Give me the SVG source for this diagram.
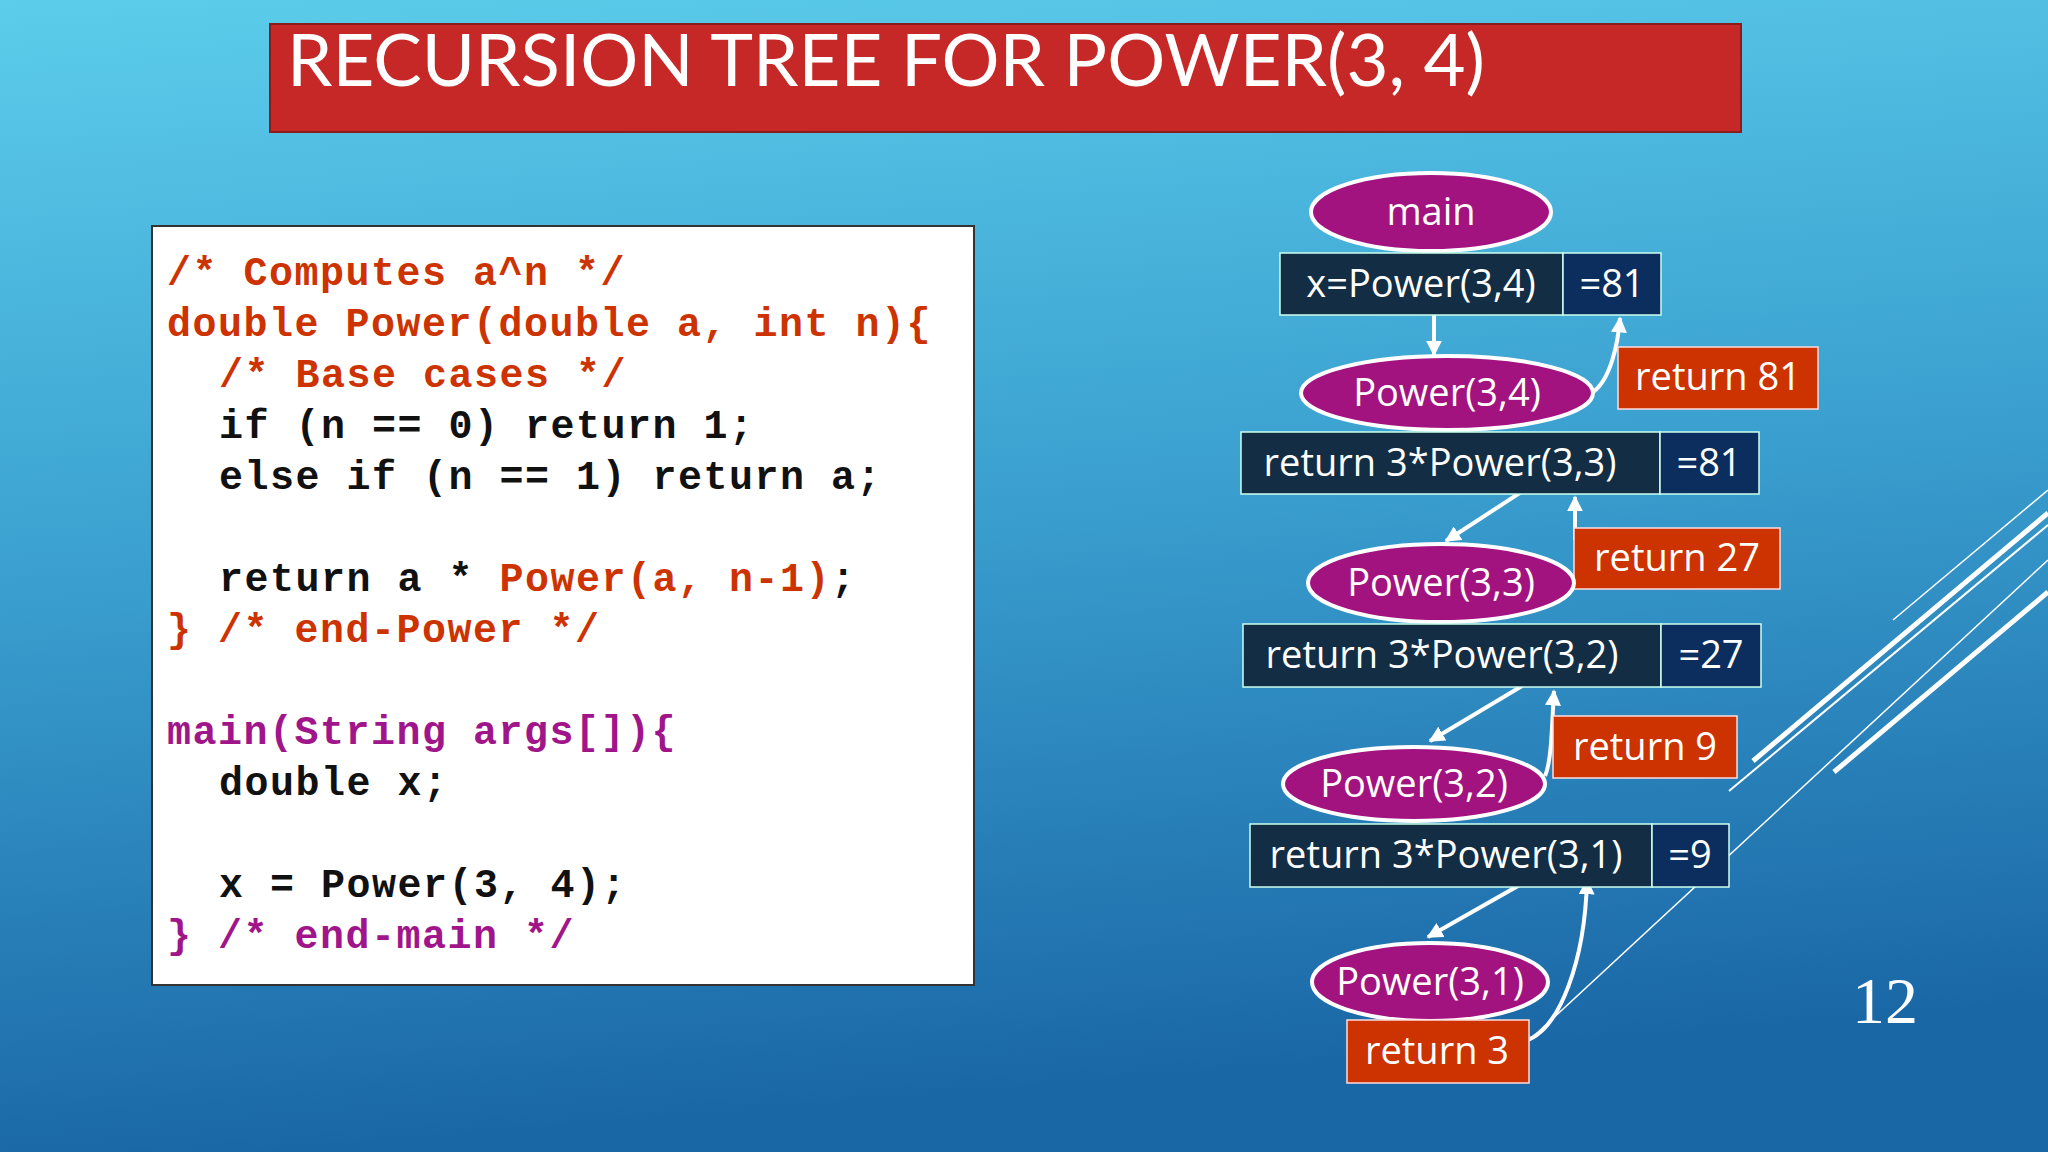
<svg xmlns="http://www.w3.org/2000/svg" width="2048" height="1152" viewBox="0 0 2048 1152">
<defs>
<linearGradient id="bg" x1="0" y1="0" x2="0.15" y2="1">
<stop offset="0" stop-color="#5ccdeb"/>
<stop offset="0.5" stop-color="#3a9fcf"/>
<stop offset="1" stop-color="#1a67a6"/>
</linearGradient>
<marker id="ah" viewBox="0 0 10 10" refX="9" refY="5" markerWidth="4" markerHeight="4" orient="auto"><path d="M0,0 L10,5 L0,10 z" fill="#fff"/></marker>
<style>
.code{font-family:"Liberation Mono",monospace;font-weight:bold;font-size:40px;letter-spacing:1.5px;white-space:pre}
.r{fill:#cc3300}.p{fill:#a0168a}.k{fill:#111}
.ell{fill:#a3137f;stroke:#fff;stroke-width:4}
.dk{fill:#122d44;stroke:#cfe;stroke-width:1.5}
.nv{fill:#0b2e5e;stroke:#cfe;stroke-width:1.5}
.or{fill:#cc3300;stroke:#fdd;stroke-width:1.5}
.t{font-family:"Open Sans","Liberation Sans",sans-serif;font-size:38px;fill:#fff;text-anchor:middle}
.c{fill:none;stroke:#fff;stroke-width:4;marker-end:url(#ah)}
.dl{stroke:#fff;fill:none}
</style>
</defs>
<rect width="2048" height="1152" fill="url(#bg)"/>
<g id="deco">
<line class="dl" x1="1893" y1="620" x2="2048" y2="490" stroke-width="1.5"/>
<line class="dl" x1="1753" y1="761" x2="2048" y2="513" stroke-width="5"/>
<line class="dl" x1="1729" y1="791" x2="2048" y2="525" stroke-width="2"/>
<line class="dl" x1="1535" y1="1035" x2="2048" y2="560" stroke-width="1.5"/>
<line class="dl" x1="1834" y1="772" x2="2048" y2="592" stroke-width="5"/>
</g>
<g id="title">
<rect x="270" y="24" width="1471" height="108" fill="#c62828" stroke="#8a1c1c" stroke-width="2"/>
<text x="287" y="86" font-family="Lato,'Open Sans',sans-serif" font-size="72" fill="#fff" textLength="1198" lengthAdjust="spacingAndGlyphs">RECURSION TREE FOR POWER(3, 4)</text>
</g>
<g id="code">
<rect x="152" y="226" width="822" height="759" fill="#fff" stroke="#333" stroke-width="2"/>
<text class="code" x="167" y="285"><tspan class="r">/* Computes a^n */</tspan></text>
<text class="code" x="167" y="336"><tspan class="r">double Power(double a, int n){</tspan></text>
<text class="code" x="219" y="387"><tspan class="r">/* Base cases */</tspan></text>
<text class="code k" x="219" y="438">if (n == 0) return 1;</text>
<text class="code k" x="219" y="489">else if (n == 1) return a;</text>
<text class="code k" x="219" y="591">return a * <tspan class="r">Power(a, n-1)</tspan>;</text>
<text class="code r" x="167" y="642">} /* end-Power */</text>
<text class="code p" x="167" y="744">main(String args[]){</text>
<text class="code k" x="219" y="795">double x;</text>
<text class="code k" x="219" y="897">x = Power(3, 4);</text>
<text class="code p" x="167" y="948">} /* end-main */</text>
</g>
<g id="connectors">
<line class="c" x1="1434" y1="315" x2="1434" y2="355"/>
<path class="c" d="M1593,392 C1610,380 1618,345 1620,318"/>
<line class="c" x1="1532" y1="485" x2="1446" y2="541"/>
<line class="c" x1="1575" y1="540" x2="1575" y2="497"/>
<line class="c" x1="1522" y1="686" x2="1430" y2="741"/>
<path class="c" d="M1545,776 C1552,760 1552,720 1554,691"/>
<line class="c" x1="1532" y1="878" x2="1428" y2="937"/>
<path class="c" d="M1525,1041 C1560,1030 1585,960 1587,880"/>
</g>
<g id="n-main"><ellipse class="ell" cx="1431" cy="212" rx="120" ry="39"/><text class="t" x="1431" y="225">main</text></g>
<g id="n-x"><rect class="dk" x="1280" y="253" width="283" height="62"/><text class="t" x="1421" y="297">x=Power(3,4)</text></g>
<g id="n-x81"><rect class="nv" x="1563" y="253" width="98" height="62"/><text class="t" x="1612" y="297">=81</text></g>
<g id="n-p34"><ellipse class="ell" cx="1447" cy="393" rx="146" ry="37"/><text class="t" x="1447" y="406">Power(3,4)</text></g>
<g id="n-r81"><rect class="or" x="1618" y="347" width="200" height="62"/><text class="t" x="1718" y="390">return 81</text></g>
<g id="n-r33"><rect class="dk" x="1241" y="432" width="419" height="62"/><text class="t" x="1440" y="476">return 3*Power(3,3)</text></g>
<g id="n-e81"><rect class="nv" x="1660" y="432" width="99" height="62"/><text class="t" x="1709" y="476">=81</text></g>
<g id="n-r27"><rect class="or" x="1574" y="528" width="206" height="61"/><text class="t" x="1677" y="571">return 27</text></g>
<g id="n-p33"><ellipse class="ell" cx="1441" cy="583" rx="133" ry="39"/><text class="t" x="1441" y="596">Power(3,3)</text></g>
<g id="n-r32"><rect class="dk" x="1243" y="624" width="418" height="63"/><text class="t" x="1442" y="668">return 3*Power(3,2)</text></g>
<g id="n-e27"><rect class="nv" x="1661" y="624" width="100" height="63"/><text class="t" x="1711" y="668">=27</text></g>
<g id="n-r9"><rect class="or" x="1553" y="716" width="184" height="62"/><text class="t" x="1645" y="760">return 9</text></g>
<g id="n-p32"><ellipse class="ell" cx="1414" cy="784" rx="131" ry="37"/><text class="t" x="1414" y="797">Power(3,2)</text></g>
<g id="n-r31"><rect class="dk" x="1250" y="824" width="402" height="63"/><text class="t" x="1446" y="868">return 3*Power(3,1)</text></g>
<g id="n-e9"><rect class="nv" x="1652" y="824" width="77" height="63"/><text class="t" x="1690" y="868">=9</text></g>
<g id="n-p31"><ellipse class="ell" cx="1430" cy="982" rx="118" ry="39"/><text class="t" x="1430" y="995">Power(3,1)</text></g>
<g id="n-r3"><rect class="or" x="1347" y="1020" width="182" height="63"/><text class="t" x="1437" y="1064">return 3</text></g>
<text x="1885" y="1023" font-family="'Liberation Serif',serif" font-size="66" fill="#fff" text-anchor="middle">12</text>
</svg>
